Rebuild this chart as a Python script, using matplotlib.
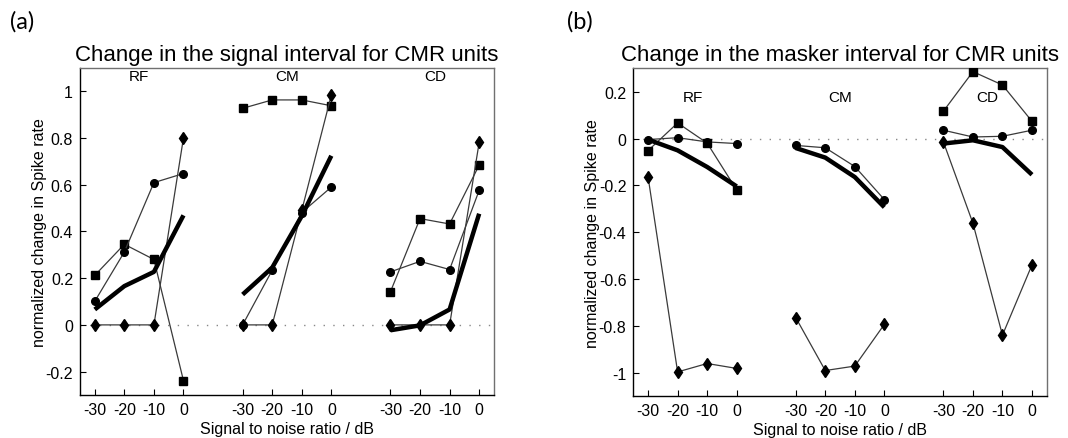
import matplotlib
matplotlib.use("Agg")
import matplotlib.pyplot as plt
import numpy as np

plt.rcParams['font.family'] = ['Liberation Sans', 'DejaVu Sans']

snr = [-30, -20, -10, 0]
groups = ['RF', 'CM', 'CD']
group_offsets = [0, 50, 100]

# Panel (a): change in the signal interval
sig_sq_RF = [0.212, 0.345, 0.28, -0.239]
sig_ci_RF = [0.101, 0.312, 0.609, 0.648]
sig_di_RF = [0, 0, 0, 0.801]
sig_mean_RF = [0.066, 0.166, 0.227, 0.469]
sig_sq_CM = [0.927, 0.963, 0.963, 0.938]
sig_ci_CM = [0, 0.234, 0.481, 0.59]
sig_di_CM = [0, 0, 0.49, 0.984]
sig_mean_CM = [0.13, 0.245, 0.466, 0.724]
sig_sq_CD = [0.142, 0.455, 0.432, 0.684]
sig_ci_CD = [0.227, 0.272, 0.237, 0.576]
sig_di_CD = [0, 0, 0, 0.781]
sig_mean_CD = [-0.023, -0.002, 0.066, 0.476]

# Panel (b): change in the masker interval
msk_sq_RF = [-0.051, 0.067, -0.019, -0.219]
msk_ci_RF = [-0.004, 0.004, -0.014, -0.021]
msk_di_RF = [-0.164, -0.996, -0.96, -0.981]
msk_mean_RF = [-0.004, -0.05, -0.121, -0.204]
msk_sq_CM = None
msk_ci_CM = [-0.029, -0.039, -0.119, -0.26]
msk_di_CM = [-0.764, -0.99, -0.971, -0.793]
msk_mean_CM = [-0.04, -0.081, -0.164, -0.293]
msk_sq_CD = [0.117, 0.286, 0.229, 0.074]
msk_ci_CD = [0.036, 0.007, 0.01, 0.036]
msk_di_CD = [-0.014, -0.361, -0.839, -0.539]
msk_mean_CD = [-0.021, -0.007, -0.036, -0.154]

sig_yticks = [-0.2, 0, 0.2, 0.4, 0.6, 0.8, 1]
sig_yticklabels = ['-0.2', '0', '0.2', '0.4', '0.6', '0.8', '1']
msk_yticks = [-1, -0.8, -0.6, -0.4, -0.2, 0, 0.2]
msk_yticklabels = ['-1', '-0.8', '-0.6', '-0.4', '-0.2', '0', '0.2']
xticklabels = ['-30', '-20', '-10', '0']

sig_data = {
    'RF': (sig_sq_RF, sig_ci_RF, sig_di_RF, sig_mean_RF),
    'CM': (sig_sq_CM, sig_ci_CM, sig_di_CM, sig_mean_CM),
    'CD': (sig_sq_CD, sig_ci_CD, sig_di_CD, sig_mean_CD),
}
msk_data = {
    'RF': (msk_sq_RF, msk_ci_RF, msk_di_RF, msk_mean_RF),
    'CM': (msk_sq_CM, msk_ci_CM, msk_di_CM, msk_mean_CM),
    'CD': (msk_sq_CD, msk_ci_CD, msk_di_CD, msk_mean_CD),
}

fig = plt.figure(figsize=(10.68, 4.39), dpi=100)
ax_a = fig.add_axes([0.0749, 0.098, 0.3876, 0.745])
ax_b = fig.add_axes([0.5930, 0.095, 0.3871, 0.747])

thin = dict(color='#3a3a3a', lw=0.9, zorder=3)


def draw_panel(ax, data, ylim, yticks, yticklabels, title, label_y):
    ax.axhline(0, color='#888888', lw=1.0, ls=(0, (1, 6)), zorder=1)
    xt = []
    for g, off in zip(groups, group_offsets):
        x = np.array(snr) + off
        xt.extend(list(x))
        sq, ci, di, mean = data[g]
        if sq is not None:
            ax.plot(x, sq, marker='s', ms=6, mfc='black', mec='black', **thin)
        ax.plot(x, ci, marker='o', ms=5.5, mfc='black', mec='black', **thin)
        ax.plot(x, di, marker='d', ms=6, mfc='black', mec='black', **thin)
        ax.plot(x, mean, color='black', lw=3.2, solid_capstyle='butt', zorder=4)
        ax.text(off - 15, label_y, g, ha='center', va='center', fontsize=11)
    ax.set_xlim(-35, 105)
    ax.set_ylim(*ylim)
    ax.set_xticks(xt)
    ax.set_xticklabels(xticklabels * 3, fontsize=11.5)
    ax.set_yticks(yticks)
    ax.set_yticklabels(yticklabels, fontsize=11.5)
    ax.tick_params(direction='in', length=4, width=0.8, pad=5)
    for s in ['left', 'bottom']:
        ax.spines[s].set_color('black')
        ax.spines[s].set_linewidth(1.0)
    for s in ['top', 'right']:
        ax.spines[s].set_color('#707070')
        ax.spines[s].set_linewidth(1.0)
    ax.set_xlabel('Signal to noise ratio / dB', fontsize=11.5, labelpad=3)
    ax.set_ylabel('normalized change in Spike rate', fontsize=11.5, labelpad=-1)
    ax.set_title(title, fontsize=16, pad=6)


draw_panel(ax_a, sig_data, (-0.3, 1.1), sig_yticks, sig_yticklabels,
           'Change in the signal interval for CMR units', 1.064)
draw_panel(ax_b, msk_data, (-1.1, 0.3), msk_yticks, msk_yticklabels,
           'Change in the masker interval for CMR units', 0.176)

fig.text(10 / 1068, 1 - 22 / 439, '(a)', fontsize=17, family=['Lato', 'DejaVu Sans'],
         ha='left', va='center')
fig.text(567 / 1068, 1 - 22 / 439, '(b)', fontsize=17, family=['Lato', 'DejaVu Sans'],
         ha='left', va='center')

fig.savefig('out.png', dpi=100)
